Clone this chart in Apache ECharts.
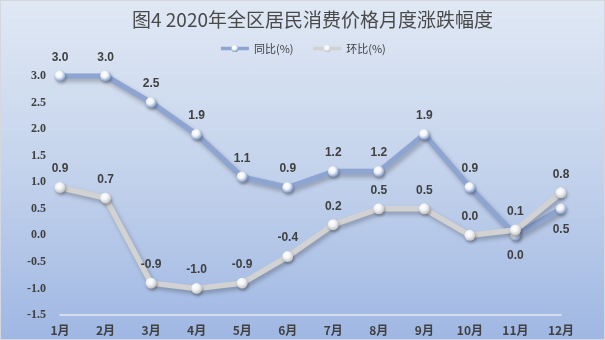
<!DOCTYPE html>
<html>
<head>
<meta charset="utf-8">
<style>
  html, body { margin: 0; padding: 0; }
  #chart { width: 605px; height: 340px; box-sizing: border-box; border: 1px solid #d4d8de;
           background: linear-gradient(to bottom, #e0e8f4 0%, #c4d3ec 50%, #9fb7e3 100%); }
</style>
<script src="https://cdn.jsdelivr.net/npm/echarts@6/dist/echarts.min.js"></script>
</head>
<body>
<div id="chart"></div>
<script>
// 2020 monthly CPI change, year-on-year and month-on-month (%)
const months = ['1月','2月','3月','4月','5月','6月','7月','8月','9月','10月','11月','12月'];
const yoy = [3.0, 3.0, 2.5, 1.9, 1.1, 0.9, 1.2, 1.2, 1.9, 0.9, 0.0, 0.5];
const mom = [0.9, 0.7, -0.9, -1.0, -0.9, -0.4, 0.2, 0.5, 0.5, 0.0, 0.1, 0.8];
// label goes below the point for these months of the yoy series
const yoyBelow = [10, 11];

const chart = echarts.init(document.getElementById('chart'), null, { renderer: 'canvas' });

function sphere(edge) {
  return {
    type: 'radial', x: 0.4, y: 0.35, r: 0.65,
    colorStops: [
      { offset: 0, color: '#ffffff' },
      { offset: 0.45, color: '#f2f4f8' },
      { offset: 1, color: edge }
    ]
  };
}

const labelStyle = { show: true, position: 'top', distance: 7, color: '#404040',
  fontSize: 12, fontWeight: 'bold', fontFamily: 'Liberation Sans, Arial, sans-serif',
  formatter: p => p.value.toFixed(1) };

chart.setOption({
  backgroundColor: 'transparent',
  title: {
    text: '图4 2020年全区居民消费价格月度涨跌幅度',
    left: 126, top: 4,
    textStyle: { fontSize: 19, fontWeight: 'normal', color: '#4a4a4a',
      fontFamily: 'Noto Sans CJK SC, sans-serif' }
  },
  legend: {
    top: 37, left: 'center', itemWidth: 28, itemHeight: 9, itemGap: 18,
    textStyle: { fontSize: 11, color: '#404040', fontFamily: 'Noto Sans CJK SC, sans-serif' },
    data: [
      { name: '同比(%)', lineStyle: { width: 3.5 } },
      { name: '环比(%)', lineStyle: { width: 3.5 } }
    ]
  },
  grid: { left: 59, right: 43, top: 75, bottom: 24 },
  xAxis: {
    type: 'category', data: months, boundaryGap: false,
    axisLine: { onZero: false, lineStyle: { color: '#e6e9ef', width: 1.5 } },
    axisTick: { show: false },
    axisLabel: { color: '#404040', fontSize: 12, fontWeight: 'bold', margin: 9,
      fontFamily: 'Noto Sans CJK SC, sans-serif' }
  },
  yAxis: {
    type: 'value', min: -1.5, max: 3.0, interval: 0.5,
    axisLine: { show: false }, axisTick: { show: false },
    splitLine: { show: false },
    axisLabel: { color: '#404040', fontSize: 12, fontWeight: 'bold', margin: 14,
      fontFamily: 'Liberation Serif, serif', formatter: v => v.toFixed(1) }
  },
  series: [
    {
      name: '同比(%)', type: 'line', data: yoy.map((v, i) => ({
        value: v,
        label: yoyBelow.includes(i) ? { position: 'bottom', distance: 9 } : undefined
      })),
      symbol: 'circle', symbolSize: 11, z: 2,
      lineStyle: { color: '#8ea5d1', width: 5.5, shadowColor: 'rgba(0,0,0,0.25)', shadowBlur: 4, shadowOffsetX: 2, shadowOffsetY: 3 },
      itemStyle: { color: sphere('#7c97c7'), borderWidth: 0,
        shadowColor: 'rgba(0,0,0,0.3)', shadowBlur: 3, shadowOffsetX: 1, shadowOffsetY: 2 },
      label: labelStyle
    },
    {
      name: '环比(%)', type: 'line', data: mom,
      symbol: 'circle', symbolSize: 11, z: 3,
      lineStyle: { color: '#d2d2d2', width: 5.5, shadowColor: 'rgba(0,0,0,0.25)', shadowBlur: 4, shadowOffsetX: 2, shadowOffsetY: 3 },
      itemStyle: { color: sphere('#c2c2c2'), borderWidth: 0,
        shadowColor: 'rgba(0,0,0,0.3)', shadowBlur: 3, shadowOffsetX: 1, shadowOffsetY: 2 },
      label: labelStyle
    }
  ]
});
</script>
</body>
</html>
